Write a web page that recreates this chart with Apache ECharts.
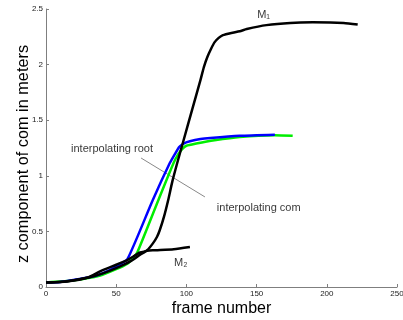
<!DOCTYPE html>
<html><head><meta charset="utf-8">
<script src="https://cdn.jsdelivr.net/npm/echarts@6/dist/echarts.min.js"></script>
<style>html,body{margin:0;padding:0;background:#fff}#c{width:403px;height:320px}</style>
</head><body><div id="c"></div>
<script>
const xTicks = [0, 50, 100, 150, 200, 250];
const yTicks = [0, 0.5, 1, 1.5, 2, 2.5];
const m1 = [[0,0.04],[10,0.045],[20,0.06],[31,0.087],[40,0.12],[50,0.17],[60,0.23],[67,0.29],[72,0.33],[76,0.39],[79,0.45],[81,0.51],[84,0.63],[87,0.78],[90,0.95],[94,1.14],[98,1.32],[104,1.59],[110,1.86],[112.5,1.98],[115,2.07],[117.5,2.14],[120,2.2],[123,2.24],[126,2.265],[132,2.285],[138,2.30],[143,2.32],[157,2.355],[174,2.375],[190,2.38],[212,2.375],[222,2.36]];
const m2 = [[0,0.04],[15,0.05],[30,0.085],[38.5,0.14],[50,0.2],[57.5,0.24],[63,0.28],[67,0.31],[72,0.325],[76,0.33],[91,0.34],[102.5,0.36]];
const root = [[0,0.04],[10,0.045],[19.5,0.063],[30,0.085],[37,0.108],[45,0.15],[52,0.2],[58,0.25],[76,0.78],[88,1.11],[92,1.2],[95,1.26],[98,1.29],[102.5,1.31],[110,1.33],[117,1.34],[138,1.36],[163,1.37]];
const com = [[0,0.04],[20,0.06],[38,0.1],[50,0.16],[58,0.21],[62,0.26],[65,0.31],[80,0.78],[90.7,1.11],[94,1.19],[97,1.24],[100,1.27],[107,1.29],[120,1.32],[138,1.35],[163,1.365],[175.7,1.36]];
const labels = [
  {name:'M\u2081', coord:[155,2.45]},
  {name:'M\u2082', coord:[96,0.22]},
  {name:'interpolating root', coord:[47,1.24]},
  {name:'interpolating com', coord:[151.5,0.71]}
];
const pointer = [[67.7,1.16],[113.2,0.81]];

const chart = echarts.init(document.getElementById('c'));
const font = 'Liberation Sans, Arial';
function axis(extra){
  return Object.assign({
    type:'value',nameLocation:'middle',nameMoveOverlap:false,
    axisLine:{show:true,lineStyle:{color:'#7f7f7f',width:1}},
    axisTick:{show:true,inside:true,length:3,lineStyle:{color:'#7f7f7f'}},
    splitLine:{show:false},
    axisLabel:{color:'#222',fontSize:8,fontFamily:font,margin:3}
  },extra);
}
chart.setOption({
  animation:false,
  grid:{left:46,right:6,top:9,bottom:33,outerBoundsMode:'none',containLabel:false},
  xAxis:axis({min:xTicks[0],max:xTicks[xTicks.length-1],interval:50,name:'frame number',nameGap:14,
    nameTextStyle:{fontSize:16,color:'#000',fontFamily:font}}),
  yAxis:axis({min:yTicks[0],max:yTicks[yTicks.length-1],interval:0.5,name:'z component of com in meters',nameGap:14,
    nameTextStyle:{fontSize:16.3,color:'#000',fontFamily:font,padding:[0,12,0,0]}}),
  series:[
    {type:'line',data:com,smooth:0.2,showSymbol:false,lineStyle:{color:'#00ee00',width:2.5},z:2},
    {type:'line',data:root,smooth:0.2,showSymbol:false,lineStyle:{color:'#0000ff',width:2.5},z:3},
    {type:'line',data:m1,smooth:0.2,showSymbol:false,lineStyle:{color:'#000',width:2.5},z:4},
    {type:'line',data:m2,smooth:0.2,showSymbol:false,lineStyle:{color:'#000',width:2.5},z:4},
    {type:'line',data:pointer,showSymbol:false,silent:true,lineStyle:{color:'#888',width:1},z:1},
    {type:'scatter',data:labels.map(l=>({name:l.name,value:l.coord})),symbolSize:0,z:5,
      label:{show:true,position:'inside',formatter:p=>p.name,color:'#000',fontSize:11,fontFamily:font}}
  ]
});
</script></body></html>
